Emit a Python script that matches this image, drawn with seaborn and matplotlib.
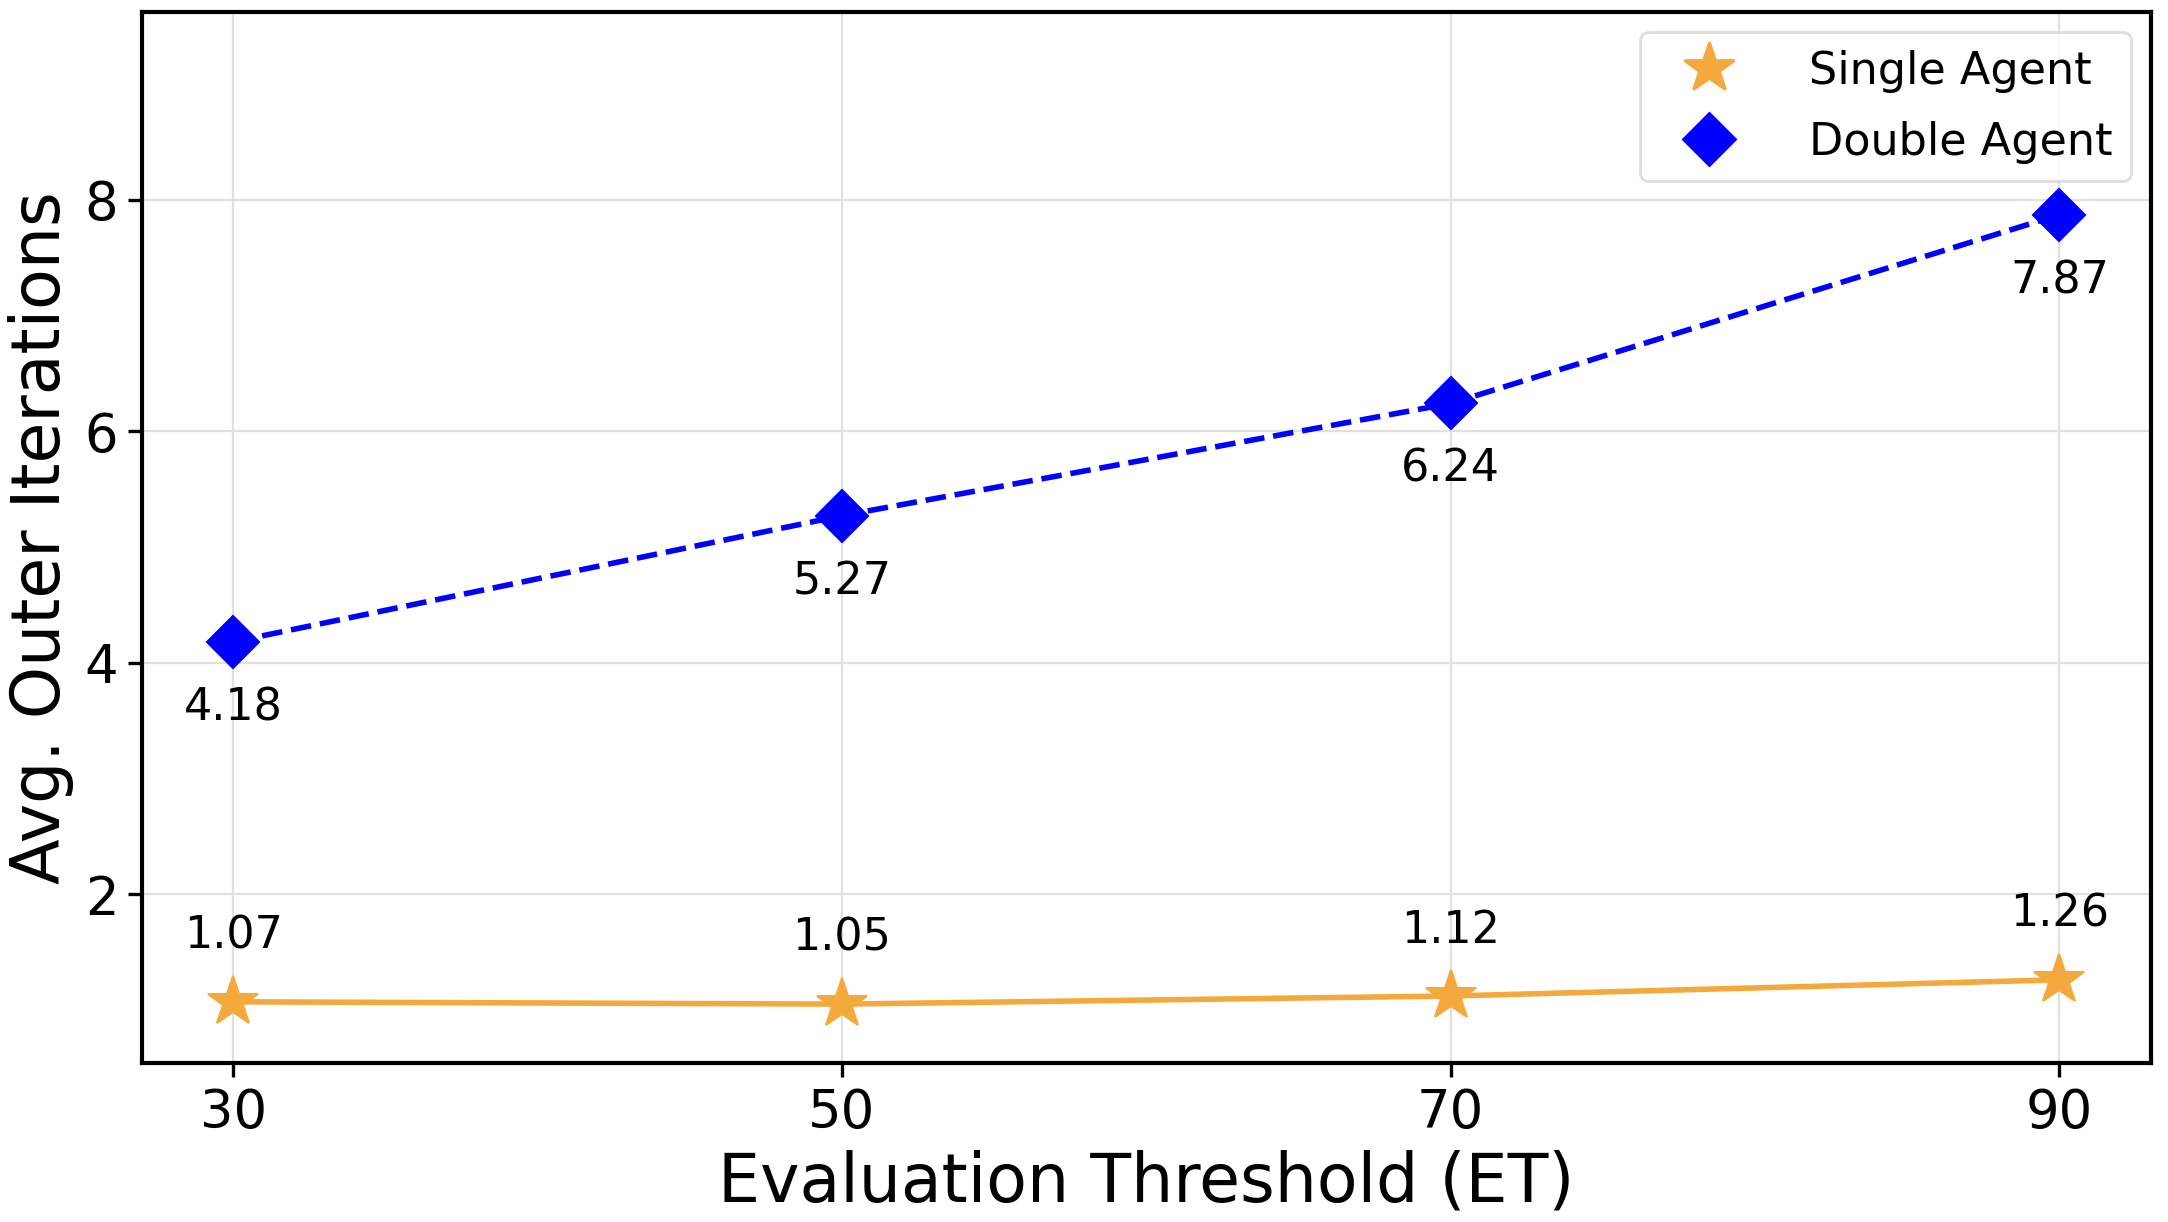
import pandas as pd
import numpy as np
import seaborn as sns
import matplotlib.pyplot as plt
from matplotlib.lines import Line2D

thresholds = [30, 50, 70, 90]
single_agent = [1.07, 1.05, 1.12, 1.26]
double_agent = [4.18, 5.27, 6.24, 7.87]

df = pd.DataFrame({"ET": thresholds, "Single Agent": single_agent, "Double Agent": double_agent})

sns.set_style("whitegrid")
plt.rcParams['font.family'] = ['DejaVu Sans']
plt.rcParams['text.color'] = 'black'
plt.rcParams['axes.labelcolor'] = 'black'
plt.rcParams['xtick.color'] = 'black'
plt.rcParams['ytick.color'] = 'black'

fig, ax = plt.subplots(figsize=(10.84, 6.11), dpi=200)
fig.subplots_adjust(left=0.0655, right=0.992, top=0.990, bottom=0.130)

orange = "#f3a93c"
blue = "#0000ff"

sns.lineplot(data=df, x="ET", y="Single Agent", ax=ax, color=orange, marker="*",
             markersize=19, markeredgecolor=orange, linewidth=2, legend=False)
sns.lineplot(data=df, x="ET", y="Double Agent", ax=ax, color=blue, marker="D",
             markersize=13, markeredgecolor=blue, linewidth=2, linestyle="--", legend=False)

# value labels
for x, y in zip(thresholds, single_agent):
    ax.annotate(f"{y:.2f}", (x, y), textcoords="offset points", xytext=(0, 16),
                ha="center", va="bottom", fontsize=16, color="black")
for x, y in zip(thresholds, double_agent):
    ax.annotate(f"{y:.2f}", (x, y), textcoords="offset points", xytext=(0, -16),
                ha="center", va="top", fontsize=16, color="black")

ax.set_xlim(27, 93)
ax.set_ylim(0.54, 9.62)
ax.set_xticks(thresholds)
ax.set_yticks([2, 4, 6, 8])
ax.tick_params(axis="both", labelsize=19, length=5, width=1.2, color="black", left=True, bottom=True)
ax.set_xlabel("Evaluation Threshold (ET)", fontsize=24)
ax.set_ylabel("Avg. Outer Iterations", fontsize=24)
ax.grid(True, color="#e0e0e0", linewidth=0.8)
for s in ax.spines.values():
    s.set_color("black")
    s.set_linewidth(1.5)

handles = [
    Line2D([], [], linestyle="none", marker="*", markersize=19, color=orange, markeredgecolor=orange),
    Line2D([], [], linestyle="none", marker="D", markersize=13, color=blue, markeredgecolor=blue),
]
leg = ax.legend(handles, ["Single Agent", "Double Agent"], loc="upper right", fontsize=16,
                frameon=True, handlelength=2.3, borderpad=0.4, labelspacing=0.62,
                handletextpad=1.1, borderaxespad=0.45)
leg.get_frame().set_edgecolor("#d6d6d6")

plt.savefig("out.png", dpi=200)
